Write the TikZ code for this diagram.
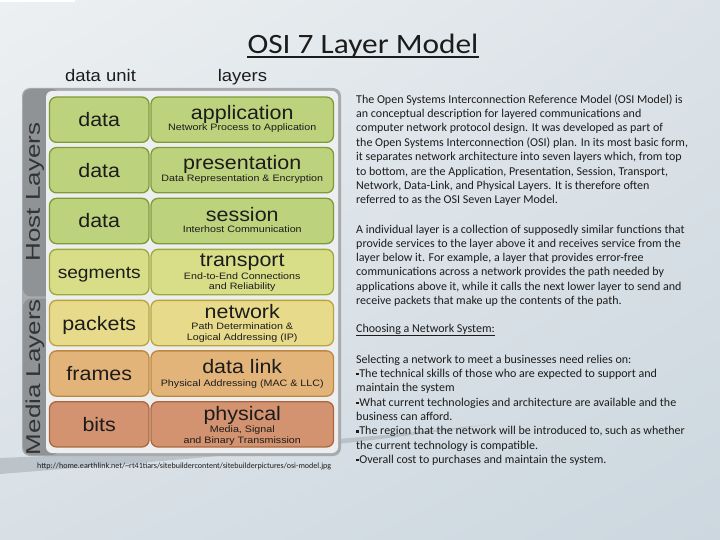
\documentclass[tikz,border=0pt]{standalone}
\usepackage{fontspec}
\usetikzlibrary{shadings}
\setmainfont{Carlito}
\newfontfamily\arialbig{Liberation Sans}[FakeStretch=1.1]
\newfontfamily\arialsub{Liberation Sans}[FakeStretch=1.15]
\newfontfamily\arialside{Liberation Sans}[FakeStretch=1.3]
\newfontfamily\titlef{Carlito}[FakeStretch=1.12]
\definecolor{bgA}{HTML}{EDF0F2}
\definecolor{bgB}{HTML}{DCE3E8}
\definecolor{bgC}{HTML}{D8E0E6}
\definecolor{bgD}{HTML}{CCD7DF}
\definecolor{framegray}{HTML}{A7ABAE}
\definecolor{stripgray}{HTML}{8F9396}
\definecolor{panelin}{HTML}{ECEEEF}
\definecolor{gfill}{HTML}{BDD27C}
\definecolor{gdraw}{HTML}{7E9B34}
\definecolor{tfill}{HTML}{D7DE87}
\definecolor{tdraw}{HTML}{9DAA3A}
\definecolor{nfill}{HTML}{E7DA8A}
\definecolor{ndraw}{HTML}{B9A43F}
\definecolor{dfill}{HTML}{E3B47A}
\definecolor{ddraw}{HTML}{BF873B}
\definecolor{pfill}{HTML}{D39270}
\definecolor{pdraw}{HTML}{AE673D}
\definecolor{ink}{HTML}{1C1C1C}
\definecolor{swoosh}{HTML}{A3ACB3}
\newcommand{\sqbul}{\raisebox{2.3pt}{\rule{2.4pt}{2.4pt}}\hspace{0.8pt}}
\tikzset{
  ubox/.style={draw, line width=1.3pt, rounded corners=7pt, minimum width=99.5pt, minimum height=45.3pt, inner sep=0pt, outer sep=0pt},
  lbox/.style={ubox, minimum width=182.5pt},
  big/.style={font=\arialbig\fontsize{19.5}{19.5}\selectfont, anchor=base, inner sep=0pt, text=ink},
  sub/.style={font=\arialsub\fontsize{9.3}{9.3}\selectfont, anchor=base, inner sep=0pt, text=ink},
  head/.style={font=\arialbig\fontsize{16.8}{16.8}\selectfont, anchor=base, inner sep=0pt, text=ink},
  side/.style={font=\arialside\fontsize{20}{20}\selectfont, rotate=90, inner sep=0pt, text=ink!90},
  body/.style={font=\fontsize{12}{14.3}\selectfont, anchor=base west, inner sep=0pt, text=ink}
}
\begin{document}
\begin{tikzpicture}[x=1pt,y=-1pt]
\useasboundingbox (0,0) rectangle (720,540);
\shade[upper left=bgA, upper right=bgB, lower left=bgC, lower right=bgD] (0,0) rectangle (720,540);
\fill[white] (0,0) rectangle (75,2.5);
% swoosh
\fill[swoosh, opacity=0.55] (0,458) .. controls (150,452) and (320,444) .. (490,424) .. controls (320,450) and (150,462) .. (0,474) -- cycle;

% title
\node[font=\titlef\fontsize{28}{28}\selectfont, anchor=base, inner sep=0pt, text=ink] (title) at (363,53.3) {OSI 7 Layer Model};
\draw[line width=1.6pt, ink] ([yshift=-3.6pt]title.base west) -- ([yshift=-3.6pt]title.base east);

% panel
\fill[framegray, rounded corners=8pt] (22,88) rectangle (341,456);
\fill[stripgray, rounded corners=8pt] (23,89) rectangle (60,296.4);
\fill[stripgray, rounded corners=8pt] (23,298.6) rectangle (60,455);
\fill[panelin, rounded corners=6pt] (46,91) rectangle (338,453);
\node[side] (host) at (35,192) {Host Layers};
\node[side] (media) at (35,377) {Media Layers};

% headers
\node[head] (hunit) at (100.5,81.7) {data unit};
\node[head] (hlay) at (242.5,81.7) {layers};

% row 1
\node[ubox, fill=gfill, draw=gdraw] (u1) at (99.25,119.7) {};
\node[lbox, fill=gfill, draw=gdraw] (l1) at (242.25,119.7) {};
\node[big] (u1t) at (99.25,126.7) {data};
\node[big] (l1t) at (242.25,119.5) {application};
\node[sub] (l1s) at (242.25,130.8) {Network Process to Application};
% row 2
\node[ubox, fill=gfill, draw=gdraw] (u2) at (99.25,170.2) {};
\node[lbox, fill=gfill, draw=gdraw] (l2) at (242.25,170.2) {};
\node[big] (u2t) at (99.25,177.2) {data};
\node[big] (l2t) at (242.25,170) {presentation};
\node[sub] (l2s) at (242.25,181.3) {Data Representation \& Encryption};
% row 3
\node[ubox, fill=gfill, draw=gdraw] (u3) at (99.25,221) {};
\node[lbox, fill=gfill, draw=gdraw] (l3) at (242.25,221) {};
\node[big] (u3t) at (99.25,228) {data};
\node[big] (l3t) at (242.25,221.5) {session};
\node[sub] (l3s) at (242.25,232.7) {Interhost Communication};
% row 4
\node[ubox, fill=tfill, draw=tdraw] (u4) at (99.25,272) {};
\node[lbox, fill=tfill, draw=tdraw] (l4) at (242.25,272) {};
\node[big, font=\arialbig\fontsize{17.4}{17.4}\selectfont] (u4t) at (99.25,278.3) {segments};
\node[big] (l4t) at (242.25,266.7) {transport};
\node[sub] (l4s) at (242.25,279.5) {End-to-End Connections};
\node[sub] (l4r) at (242.25,289.6) {and Reliability};
% row 5
\node[ubox, fill=nfill, draw=ndraw] (u5) at (99.25,323) {};
\node[lbox, fill=nfill, draw=ndraw] (l5) at (242.25,323) {};
\node[big] (u5t) at (99.25,330) {packets};
\node[big] (l5t) at (242.25,318.3) {network};
\node[sub] (l5s) at (242.25,329.8) {Path Determination \&};
\node[sub] (l5r) at (242.25,340.5) {Logical Addressing (IP)};
% row 6
\node[ubox, fill=dfill, draw=ddraw] (u6) at (99.25,373.5) {};
\node[lbox, fill=dfill, draw=ddraw] (l6) at (242.25,373.5) {};
\node[big] (u6t) at (99.25,380.5) {frames};
\node[big] (l6t) at (242.25,373.3) {data link};
\node[sub] (l6s) at (242.25,386.7) {Physical Addressing (MAC \& LLC)};
% row 7
\node[ubox, fill=pfill, draw=pdraw] (u7) at (99.25,424.3) {};
\node[lbox, fill=pfill, draw=pdraw] (l7) at (242.25,424.3) {};
\node[big] (u7t) at (99.25,431.3) {bits};
\node[big] (l7t) at (242.25,420) {physical};
\node[sub] (l7s) at (242.25,432.5) {Media, Signal};
\node[sub] (l7r) at (242.25,443) {and Binary Transmission};

% url
\node[font=\fontsize{8.05}{8.5}\selectfont, anchor=base west, inner sep=0pt, text=ink] (url) at (37,468) {http://home.earthlink.net/\textasciitilde rt41tiars/sitebuildercontent/sitebuilderpictures/osi-model.jpg};

% paragraph 1
\node[body] (a1) at (356,103.3) {The Open Systems Interconnection Reference Model (OSI Model) is};
\node[body] (a2) at (356,117.65) {an conceptual description for layered communications and};
\node[body] (a3) at (356,132) {computer network protocol design. It was developed as part of};
\node[body] (a4) at (356,146.35) {the Open Systems Interconnection (OSI) plan. In its most basic form,};
\node[body] (a5) at (356,160.7) {it separates network architecture into seven layers which, from top};
\node[body] (a6) at (356,175.05) {to bottom, are the Application, Presentation, Session, Transport,};
\node[body] (a7) at (356,189.4) {Network, Data-Link, and Physical Layers. It is therefore often};
\node[body] (a8) at (356,203.75) {referred to as the OSI Seven Layer Model.};
% paragraph 2
\node[body] (b1) at (356,233.3) {A individual layer is a collection of supposedly similar functions that};
\node[body] (b2) at (356,247.5) {provide services to the layer above it and receives service from the};
\node[body] (b3) at (356,261.7) {layer below it. For example, a layer that provides error-free};
\node[body] (b4) at (356,275.9) {communications across a network provides the path needed by};
\node[body] (b5) at (356,290.1) {applications above it, while it calls the next lower layer to send and};
\node[body] (b6) at (356,304.3) {receive packets that make up the contents of the path.};
\node[body] (ch) at (356,332) {\underline{Choosing a Network System:}};
% paragraph 3
\node[body] (c1) at (356,363.3) {Selecting a network to meet a businesses need relies on:};
\node[body] (c2) at (356,377.6) {\sqbul The technical skills of those who are expected to support and};
\node[body] (c3) at (356,391.9) {maintain the system};
\node[body] (c4) at (356,406.2) {\sqbul What current technologies and architecture are available and the};
\node[body] (c5) at (356,420.5) {business can afford.};
\node[body] (c6) at (356,434.8) {\sqbul The region that the network will be introduced to, such as whether};
\node[body] (c7) at (356,449.1) {the current technology is compatible.};
\node[body] (c8) at (356,463.4) {\sqbul Overall cost to purchases and maintain the system.};
\end{tikzpicture}
\end{document}
